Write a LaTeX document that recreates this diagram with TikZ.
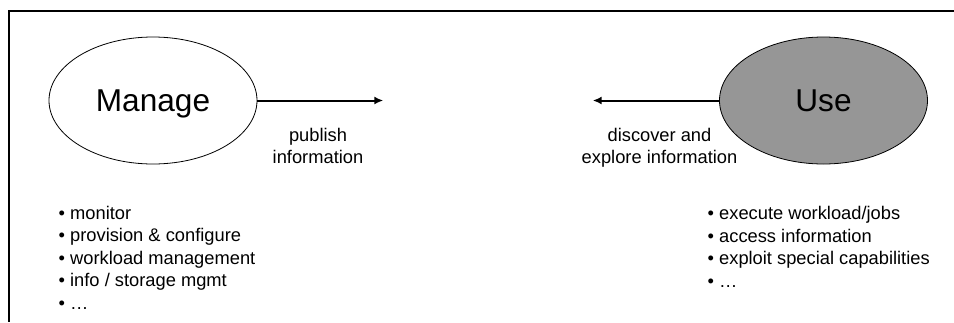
\documentclass[tikz,border=0pt]{standalone}
\usepackage{fontspec}
\setmainfont{Liberation Sans}
\usetikzlibrary{shapes.geometric,arrows.meta}

\definecolor{usegray}{RGB}{150,150,150}
\newcommand{\bigfont}{\fontsize{31.6}{38}\selectfont}
\newcommand{\smallfont}{\fontsize{18.3}{22.4}\selectfont}

\begin{document}
\begin{tikzpicture}[x=1pt,y=-1pt,
        blob/.style={ellipse, draw, line width=0.8pt, minimum width=208pt, minimum height=127pt, inner sep=0pt, text depth=0pt, font=\bigfont},
        flow/.style={line width=2pt, -{Latex[length=9pt,width=8pt]}},
        caption/.style={align=center, font=\smallfont, inner sep=0pt, anchor=base},
        items/.style={align=left, font=\smallfont, inner sep=0pt, anchor=base west}]
        \useasboundingbox (0,0) rectangle (954,322);

        % frame along the top and the left edge
        \draw[line width=2pt] (954,11) -| (9.3,322);

        \node[blob] (manage) at (153,100.5) {Manage\hspace{9pt}};
        \node[blob, fill=usegray] (use) at (823.5,100.5) {Use};

        % open arrow ends
        \coordinate (pubtip) at (383.3,100.5);
        \coordinate (disctip) at (592.7,100.5);
        \draw[flow] (manage.east) -- (pubtip);
        \draw[flow] (use.west) -- (disctip);

        % base sits on the last line
        \node[caption] (publish) at (318,163.5) {publish\\information};
        \node[caption] (discover) at (659.5,163.5) {discover and\\explore information};

        % bullet lists
        \node[items] (managelist) at (58.5,309) {• monitor\\• provision \& configure\\• workload management\\• info / storage mgmt\\• …};
        \node[items] (uselist) at (707.5,287) {• execute workload/jobs\\• access information\\• exploit special capabilities\\• …};

    \end{tikzpicture}
\end{document}
